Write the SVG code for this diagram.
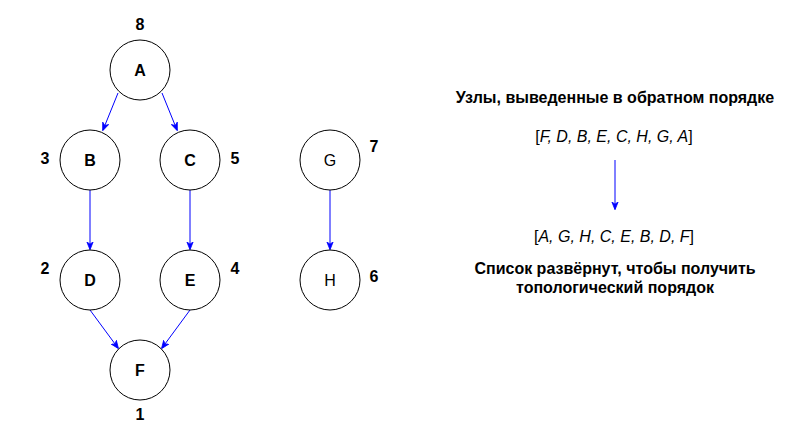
<svg xmlns="http://www.w3.org/2000/svg" width="800" height="441" viewBox="0 0 800 441">
<style>
.n{fill:#fff;stroke:#000;stroke-width:1}
.t{font-family:"Liberation Sans",Arial,sans-serif;font-size:16px;fill:#000;text-anchor:middle;dominant-baseline:central}
.b{font-weight:bold}
.e{fill:none;stroke:#0000ff;stroke-width:1;marker-end:url(#ah)}
</style>
<defs>
<marker id="ah" viewBox="0 0 10 10" refX="9" refY="5" markerWidth="8" markerHeight="8" markerUnits="userSpaceOnUse" orient="auto">
<path d="M0,1 L10,5 L0,9 L3,5 Z" fill="#0000ff" stroke="#0000ff" stroke-width="1"/>
</marker>
</defs>
<rect width="800" height="441" fill="#fff"/>
<g id="connectors">
<line class="e" x1="118" y1="93" x2="103" y2="130"/>
<line class="e" x1="162" y1="93" x2="177" y2="130"/>
<line class="e" x1="90" y1="190" x2="90" y2="249"/>
<line class="e" x1="190" y1="190" x2="190" y2="249"/>
<line class="e" x1="90" y1="310" x2="118" y2="348"/>
<line class="e" x1="190" y1="310" x2="162" y2="348"/>
<line class="e" x1="330" y1="190" x2="330" y2="249"/>
<line class="e" x1="615" y1="160" x2="615" y2="209"/>
</g>
<g id="A"><circle class="n" cx="140" cy="70" r="30"/><text class="t b" x="140" y="70">A</text></g>
<g id="B"><circle class="n" cx="90" cy="160" r="30"/><text class="t b" x="90" y="160">B</text></g>
<g id="C"><circle class="n" cx="190" cy="160" r="30"/><text class="t b" x="190" y="160">C</text></g>
<g id="D"><circle class="n" cx="90" cy="280" r="30"/><text class="t b" x="90" y="280">D</text></g>
<g id="E"><circle class="n" cx="190" cy="280" r="30"/><text class="t b" x="190" y="280">E</text></g>
<g id="F"><circle class="n" cx="140" cy="370" r="30"/><text class="t b" x="140" y="370">F</text></g>
<g id="G"><circle class="n" cx="330" cy="160" r="30"/><text class="t" x="330" y="160">G</text></g>
<g id="H"><circle class="n" cx="330" cy="280" r="30"/><text class="t" x="330" y="280">H</text></g>
<g id="numbers">
<text class="t b" x="140" y="24">8</text>
<text class="t b" x="45" y="158">3</text>
<text class="t b" x="235" y="158">5</text>
<text class="t b" x="45" y="268">2</text>
<text class="t b" x="235" y="268">4</text>
<text class="t b" x="140" y="414">1</text>
<text class="t b" x="374" y="146">7</text>
<text class="t b" x="374" y="276">6</text>
</g>
<g id="notes">
<text class="t b" x="615" y="97">Узлы, выведенные в обратном порядке</text>
<text class="t" x="614" y="136">[<tspan font-style="italic">F, D, B, E, C, H, G, A</tspan>]</text>
<text class="t" x="614" y="236">[<tspan font-style="italic">A, G, H, C, E, B, D, F</tspan>]</text>
<text class="t b" x="615" y="268">Список развёрнут, чтобы получить</text>
<text class="t b" x="615" y="287">топологический порядок</text>
</g>
</svg>
